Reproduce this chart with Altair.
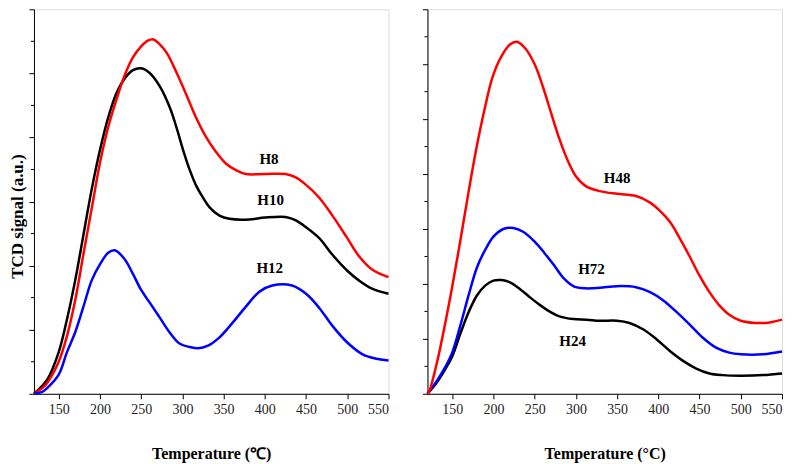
import altair as alt
import pandas as pd

# ---------------- data ----------------
# Left panel
L_x_H8 = [120, 131, 136, 150, 160, 170, 180, 190, 200, 210, 220, 230, 240, 250, 258, 265, 272, 281, 293, 305,
          317, 329, 341, 353, 365, 377, 400, 425, 437, 450, 466, 482, 500, 514, 530, 550]
L_y_H8 = [0, 0.1, 0.17, 0.5, 0.9, 1.46, 2.18, 2.89, 3.6, 4.16, 4.59, 4.97, 5.25, 5.42, 5.51, 5.53, 5.46, 5.32, 5.01, 4.66,
          4.30, 4.0, 3.77, 3.59, 3.49, 3.43, 3.43, 3.43, 3.38, 3.26, 3.06, 2.78, 2.43, 2.15, 1.94, 1.82]

L_x_H10 = [120, 136, 150, 160, 170, 180, 190, 200, 210, 220, 230, 240, 250, 260, 273, 285, 293, 301, 309, 317,
           325, 333, 345, 357, 381, 400, 425, 437, 450, 466, 482, 500, 514, 530, 550]
L_y_H10 = [0, 0.22, 0.65, 1.16, 1.77, 2.48, 3.19, 3.80, 4.31, 4.69, 4.92, 5.05, 5.08, 5.01, 4.79, 4.46, 4.15, 3.80, 3.49, 3.24,
           3.06, 2.91, 2.78, 2.73, 2.72, 2.75, 2.76, 2.71, 2.6, 2.43, 2.17, 1.92, 1.77, 1.64, 1.56]

L_x_H12 = [120, 130, 136, 150, 160, 170, 180, 190, 200, 210, 218, 230, 240, 250, 260, 272, 285, 297, 309, 319,
           331, 345, 361, 377, 393, 409, 433, 450, 466, 482, 500, 518, 534, 550]
L_y_H12 = [0, 0.03, 0.09, 0.3, 0.65, 0.96, 1.36, 1.77, 2.02, 2.2, 2.24, 2.1, 1.87, 1.62, 1.43, 1.2, 0.95, 0.78, 0.73, 0.71,
           0.75, 0.88, 1.11, 1.36, 1.59, 1.69, 1.69, 1.56, 1.34, 1.06, 0.8, 0.62, 0.55, 0.52]

# Right panel
R_x_H48 = [120, 122, 132, 142, 150, 160, 170, 180, 190, 199, 210, 220, 228, 238, 250, 260, 270, 280, 290, 300,
           312, 329, 350, 373, 390, 402, 414, 426, 438, 450, 462, 474, 486, 500, 518, 535, 550]
R_y_H48 = [0, 0.04, 0.6, 1.32, 1.95, 2.8, 3.69, 4.52, 5.23, 5.77, 6.15, 6.36, 6.41, 6.3, 6.0, 5.59, 5.11, 4.64, 4.25, 3.96,
           3.78, 3.69, 3.64, 3.6, 3.48, 3.33, 3.13, 2.83, 2.5, 2.15, 1.85, 1.61, 1.44, 1.33, 1.29, 1.3, 1.35]

R_x_H72 = [120, 132, 142, 150, 160, 170, 180, 190, 200, 212, 224, 236, 250, 262, 274, 286, 298, 312, 329, 350,
           373, 390, 406, 422, 438, 454, 470, 486, 500, 527, 550]
R_y_H72 = [0, 0.25, 0.5, 0.75, 1.25, 1.8, 2.3, 2.62, 2.86, 3.0, 3.02, 2.95, 2.77, 2.56, 2.33, 2.09, 1.95, 1.92, 1.93, 1.96,
           1.94, 1.85, 1.7, 1.49, 1.26, 1.02, 0.84, 0.75, 0.72, 0.72, 0.77]

R_x_H24 = [120, 132, 142, 150, 160, 170, 180, 190, 200, 210, 220, 232, 244, 257, 269, 280, 297, 313, 329, 350,
           365, 382, 398, 414, 430, 446, 462, 478, 500, 527, 550]
R_y_H24 = [0, 0.22, 0.46, 0.68, 1.1, 1.49, 1.79, 1.97, 2.06, 2.07, 2.03, 1.91, 1.76, 1.61, 1.49, 1.41, 1.36, 1.35, 1.33, 1.33,
           1.29, 1.17, 0.99, 0.78, 0.6, 0.46, 0.37, 0.34, 0.33, 0.34, 0.37]

# curve labels
L_lab_text = ["H8", "H10", "H12"]
L_lab_x = [405, 407, 406]
L_lab_y = [3.67, 3.03, 1.97]
R_lab_text = ["H48", "H72", "H24"]
R_lab_x = [350, 319, 296]
R_lab_y = [3.93, 2.28, 0.96]

x_ticks = [150, 200, 250, 300, 350, 400, 450, 500, 550]
L_major_y = [0, 1, 2, 3, 4, 5, 6]
L_minor_y = [0.5, 1.5, 2.5, 3.5, 4.5, 5.5]
R_major_y = [0, 1, 2, 3, 4, 5, 6, 7]
R_minor_y = [0.5, 1.5, 2.5, 3.5, 4.5, 5.5, 6.5]

# ---------------- build ----------------
FONT = "Liberation Serif"
W, H = 355, 385


def long_df(series):
    rows = []
    for name, xs, ys in series:
        for xv, yv in zip(xs, ys):
            rows.append({"series": name, "T": xv, "S": yv})
    return pd.DataFrame(rows)


def panel(series, names, colors, lab_text, lab_x, lab_y, major_y, minor_y, x_title, y_title, flush):
    df = long_df(series)
    lab = pd.DataFrame({"label": lab_text, "T": lab_x, "S": lab_y})
    minor = pd.DataFrame({"S": minor_y})
    ymax = major_y[-1]

    xaxis_kw = dict(values=x_ticks, title=x_title, labelFont=FONT, labelFontSize=14, labelColor="#222222",
                    tickSize=5, labelPadding=4, titleFont=FONT, titleFontSize=16, titleFontWeight="bold",
                    titlePadding=29, titleColor="black", domainColor="black", tickColor="black", grid=False)
    if flush:
        xaxis_kw["labelFlush"] = True
    yaxis_kw = dict(values=major_y, labels=False, tickSize=5,
                    domainColor="black", tickColor="black", grid=False)
    if y_title:
        yaxis_kw.update(title=y_title, titleFont=FONT, titleFontSize=17, titleFontWeight="bold",
                        titleColor="black", titlePadding=2, titleY=207)
    else:
        yaxis_kw["title"] = None

    x = alt.X("T:Q", scale=alt.Scale(domain=[120, 550], nice=False, zero=False), axis=alt.Axis(**xaxis_kw))
    y = alt.Y("S:Q", scale=alt.Scale(domain=[0, ymax], nice=False, zero=False), axis=alt.Axis(**yaxis_kw))

    lines = alt.Chart(df).mark_line(strokeWidth=2.5, interpolate="catmull-rom").encode(
        x=x, y=y,
        color=alt.Color("series:N", scale=alt.Scale(domain=names, range=colors), legend=None),
        order=alt.Order("T:Q"),
    )
    minor_ticks = alt.Chart(minor).mark_rule(color="black", strokeWidth=1).encode(
        y="S:Q", x=alt.value(-3), x2=alt.value(0))
    texts = alt.Chart(lab).mark_text(font=FONT, fontSize=15, fontWeight="bold", color="black",
                                     align="center", baseline="middle").encode(
        x="T:Q", y="S:Q", text="label:N")
    return alt.layer(lines, minor_ticks, texts).properties(width=W, height=H)


left = panel([("H10", L_x_H10, L_y_H10), ("H8", L_x_H8, L_y_H8), ("H12", L_x_H12, L_y_H12)],
             ["H8", "H10", "H12"], ["#ff0000", "#000000", "#0000ff"],
             L_lab_text, L_lab_x, L_lab_y, L_major_y, L_minor_y,
             "Temperature (\u2103)", "TCD signal (a.u.)", False)
right = panel([("H24", R_x_H24, R_y_H24), ("H72", R_x_H72, R_y_H72), ("H48", R_x_H48, R_y_H48)],
              ["H48", "H72", "H24"], ["#ff0000", "#0000ff", "#000000"],
              R_lab_text, R_lab_x, R_lab_y, R_major_y, R_minor_y,
              "Temperature (\u00b0C)", None, True)

chart = alt.hconcat(left, right, spacing=39, bounds="flush", padding=0).resolve_scale(
    color="independent", x="independent", y="independent"
).configure_view(stroke="black", strokeWidth=1).configure(background="white")

chart.save("out.html", embed_options={"renderer": "svg", "actions": False})
